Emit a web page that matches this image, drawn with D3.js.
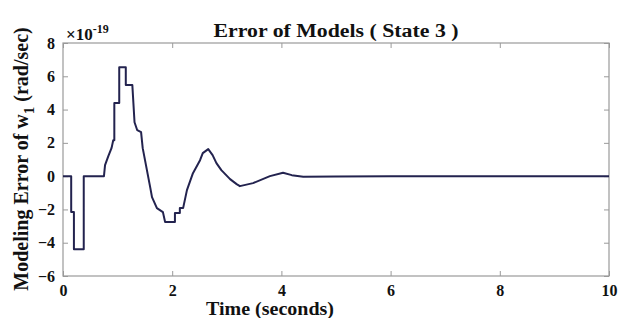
<!DOCTYPE html>
<html>
<head>
<meta charset="utf-8">
<script src="https://cdn.jsdelivr.net/npm/d3@7"></script>
<style>
  body { margin: 0; background: #fff; }
  svg text { font-family: "Liberation Serif", "Times New Roman", serif; font-weight: bold; }
</style>
</head>
<body>
<svg width="619" height="318"></svg>
<script>
// time (s) and modeling error (x1e-19 rad/sec)
const timeVals = [0, 0.15, 0.15, 0.2, 0.2, 0.38, 0.38, 0.75, 0.77, 0.83, 0.89, 0.92, 0.94, 0.94,
  1.03, 1.03, 1.15, 1.15, 1.27, 1.31, 1.36, 1.43, 1.46, 1.6, 1.63, 1.72, 1.83, 1.87,
  2.05, 2.05, 2.14, 2.14, 2.2, 2.27, 2.38, 2.51, 2.56, 2.66, 2.74, 2.81, 2.9, 3.06, 3.18,
  3.24, 3.48, 3.79, 4.03, 4.19, 4.4, 5, 6, 10];
const errorVals = [0, 0, -2.16, -2.16, -4.39, -4.39, 0, 0, 0.66, 1.2, 1.7, 2.16, 2.16, 4.39,
  4.39, 6.55, 6.55, 5.47, 5.47, 3.24, 2.76, 2.64, 1.68, -0.72, -1.26, -1.92, -2.16, -2.76,
  -2.76, -2.22, -2.22, -1.92, -1.92, -0.84, 0.18, 0.96, 1.38, 1.62, 1.26, 0.78, 0.36, -0.18, -0.48,
  -0.6, -0.42, 0, 0.2, 0.06, -0.03, -0.02, 0, 0];

const xTicks = [0, 2, 4, 6, 8, 10];
const yTicks = [-6, -4, -2, 0, 2, 4, 6, 8];

const titleText = 'Error of Models ( State 3 )';
const xLabel = 'Time (seconds)';

const svg = d3.select('svg');
const margin = { left: 63, top: 43, right: 10, bottom: 42 };
const width = 619 - margin.left - margin.right;
const height = 318 - margin.top - margin.bottom;

const x = d3.scaleLinear().domain([0, 10]).range([0, width]);
const y = d3.scaleLinear().domain([-6, 8]).range([height, 0]);

const g = svg.append('g').attr('transform', `translate(${margin.left},${margin.top})`);

// inward ticks on all four sides, MATLAB style
const axisColor = '#9a9a9a';
const styleAxis = sel => {
  sel.select('.domain').remove();
  sel.selectAll('.tick line').attr('stroke', axisColor);
  sel.selectAll('.tick text').attr('fill', '#111').style('font-size', '16px');
};

g.append('g').attr('transform', `translate(0,${height})`)
  .call(d3.axisBottom(x).tickValues(xTicks).tickSizeInner(-5).tickPadding(9))
  .call(styleAxis);
g.append('g')
  .call(d3.axisTop(x).tickValues(xTicks).tickSizeInner(-5).tickFormat(''))
  .call(styleAxis);
g.append('g')
  .call(d3.axisLeft(y).tickValues(yTicks).tickSizeInner(-5).tickPadding(8))
  .call(styleAxis);
g.append('g').attr('transform', `translate(${width},0)`)
  .call(d3.axisRight(y).tickValues(yTicks).tickSizeInner(-5).tickFormat(''))
  .call(styleAxis);

g.append('rect')
  .attr('width', width).attr('height', height)
  .attr('fill', 'none').attr('stroke', axisColor).attr('stroke-width', 1.2);

// the error trace
const line = d3.line().x(d => x(d[0])).y(d => y(d[1]));
g.append('path')
  .datum(d3.zip(timeVals, errorVals))
  .attr('d', line)
  .attr('fill', 'none')
  .attr('stroke', '#23234f')
  .attr('stroke-width', 2)
  .attr('stroke-linejoin', 'round');

// exponent marker
const expo = svg.append('text').attr('x', 66).attr('y', 40).style('font-size', '17px').attr('fill', '#111');
expo.append('tspan').text('\u00d710');
expo.append('tspan').attr('dy', -7).style('font-size', '12px').text('-19');

// title
svg.append('text')
  .attr('x', 336).attr('y', 37)
  .attr('text-anchor', 'middle')
  .attr('textLength', 245).attr('lengthAdjust', 'spacingAndGlyphs')
  .style('font-size', '18px').attr('fill', '#111')
  .text(titleText);

// x label
svg.append('text')
  .attr('x', 270).attr('y', 315)
  .attr('text-anchor', 'middle')
  .attr('textLength', 128).attr('lengthAdjust', 'spacingAndGlyphs')
  .style('font-size', '18px').attr('fill', '#111')
  .text(xLabel);

// y label with subscript
const yl = svg.append('text')
  .attr('transform', 'translate(28,159) rotate(-90)')
  .attr('text-anchor', 'middle')
  .style('font-size', '20px').attr('fill', '#111');
yl.append('tspan').text('Modeling Error of  w');
yl.append('tspan').attr('dy', 6).style('font-size', '15px').text('1');
yl.append('tspan').attr('dy', -6).text(' (rad/sec)');
</script>
</body>
</html>
